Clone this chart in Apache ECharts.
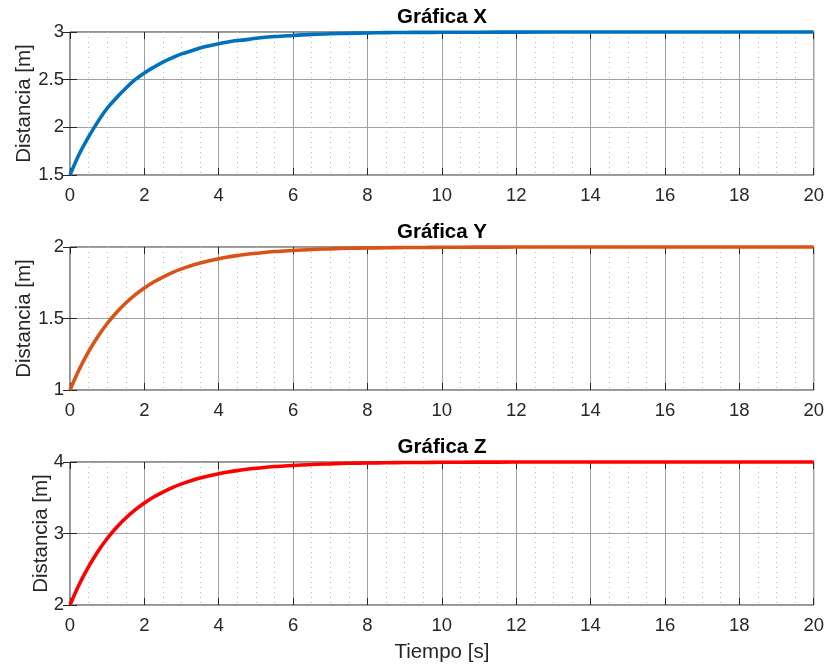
<!DOCTYPE html>
<html>
<head>
<meta charset="utf-8">
<script src="https://cdn.jsdelivr.net/npm/echarts@6/dist/echarts.min.js"></script>
<style>html,body{margin:0;padding:0;background:#fff}#c{width:827px;height:668px}</style>
</head>
<body>
<div id="c"></div>
<script>
// Time samples (s)
const tiempo = [0,0.25,0.5,0.75,1,1.25,1.5,1.75,2,2.25,2.5,2.75,3,3.25,3.5,3.75,4,4.25,4.5,4.75,5,
  5.5,6,6.5,7,7.5,8,8.5,9,9.5,10,11,12,14,16,18,20];
// Gráfica X values (m)
const valoresX = [1.5,1.72,1.90,2.06,2.20,2.31,2.41,2.50,2.57,2.63,2.685,2.73,2.77,2.80,2.832,2.856,2.877,2.895,2.91,2.92,2.934,
  2.952,2.964,2.975,2.981,2.986,2.99,2.993,2.995,2.996,2.997,2.998,2.999,3,3,3,3];
// Gráfica Y values (m)
const valoresY = [1,1.145,1.268,1.374,1.465,1.542,1.608,1.665,1.713,1.755,1.79,1.821,1.847,1.869,1.888,1.904,1.918,1.93,1.94,1.949,1.956,
  1.968,1.976,1.983,1.987,1.991,1.993,1.995,1.996,1.997,1.998,1.999,1.9995,2,2,2,2];
// Gráfica Z values (m)
const valoresZ = [2,2.29,2.536,2.748,2.93,3.084,3.216,3.33,3.426,3.51,3.58,3.642,3.694,3.738,3.776,3.808,3.836,3.86,3.88,3.898,3.912,
  3.936,3.952,3.966,3.974,3.982,3.986,3.99,3.992,3.994,3.996,3.998,3.999,4,4,4,4];

const titulos = ['Gráfica X','Gráfica Y','Gráfica Z'];
const ejeY = [{min:1.5,max:3,interval:0.5},{min:1,max:2,interval:0.5},{min:2,max:4,interval:1}];
const xTicks = {min:0,max:20,interval:2};
const colores = ['#0072BD','#D95319','#FF0000'];
const etiquetaY = 'Distancia [m]';
const etiquetaX = 'Tiempo [s]';

const FONT = "'Liberation Sans', Arial, Helvetica, sans-serif";
const TXT = '#262626';
const gridTops = [32, 247, 462];
const gridH = 143;
const nameGaps = [35, 35, 18];

const chart = echarts.init(document.getElementById('c'), null, {renderer:'canvas'});
const grids = [], xAxes = [], yAxes = [], series = [], titles = [];
const datasets = [valoresX, valoresY, valoresZ];

for (let i = 0; i < 3; i++) {
  grids.push({left:70, right:12, top:gridTops[i], height:gridH, show:true, borderColor:TXT, borderWidth:1, backgroundColor:'transparent'});
  titles.push({text:titulos[i], left:442, textAlign:'center', top:gridTops[i]-25, padding:0,
    textStyle:{fontFamily:FONT, fontSize:20.5, fontWeight:'bold', color:'#000'}});
  xAxes.push({type:'value', gridIndex:i, min:xTicks.min, max:xTicks.max, interval:xTicks.interval,
    position:'bottom',
    axisLine:{show:false},
    axisTick:{show:true, inside:true, length:7, lineStyle:{color:TXT}},
    axisLabel:{fontFamily:FONT, fontSize:18.5, color:TXT, margin:11},
    splitLine:{show:true, lineStyle:{color:'#a0a0a0', width:1}},
    minorTick:{show:false, splitNumber:4},
    minorSplitLine:{show:true, lineStyle:{color:'#bcbcbc', width:1, type:[1,4]}},
    name: i === 2 ? etiquetaX : '', nameLocation:'middle', nameGap:37, nameMoveOverlap:false,
    nameTextStyle:{fontFamily:FONT, fontSize:20.5, color:TXT}
  });
  xAxes.push({type:'value', gridIndex:i, min:xTicks.min, max:xTicks.max, interval:xTicks.interval,
    position:'top', axisLine:{show:false},
    axisTick:{show:true, inside:true, length:7, lineStyle:{color:TXT}},
    axisLabel:{show:false}, splitLine:{show:false}});
  yAxes.push({type:'value', gridIndex:i, min:ejeY[i].min, max:ejeY[i].max, interval:ejeY[i].interval,
    position:'left', axisLine:{show:false},
    axisTick:{show:true, inside:true, length:7, lineStyle:{color:TXT}},
    axisLabel:{fontFamily:FONT, fontSize:18.5, color:TXT, margin:6},
    splitLine:{show:true, lineStyle:{color:'#a0a0a0', width:1}},
    name:etiquetaY, nameLocation:'middle', nameGap:nameGaps[i], nameRotate:90, nameMoveOverlap:false,
    nameTextStyle:{fontFamily:FONT, fontSize:20.5, color:TXT}
  });
  yAxes.push({type:'value', gridIndex:i, min:ejeY[i].min, max:ejeY[i].max, interval:ejeY[i].interval,
    position:'right', axisLine:{show:false},
    axisTick:{show:true, inside:true, length:7, lineStyle:{color:TXT}},
    axisLabel:{show:false}, splitLine:{show:false}});
  series.push({type:'line', xAxisIndex:2*i, yAxisIndex:2*i, showSymbol:false, symbol:'none',
    smooth:0.35, clip:false, animation:false,
    lineStyle:{color:colores[i], width:3.6},
    data: tiempo.map((t, k) => [t, datasets[i][k]])});
}

chart.setOption({
  animation:false,
  backgroundColor:'#fff',
  title:titles, grid:grids, xAxis:xAxes, yAxis:yAxes, series:series
});
</script>
</body>
</html>
